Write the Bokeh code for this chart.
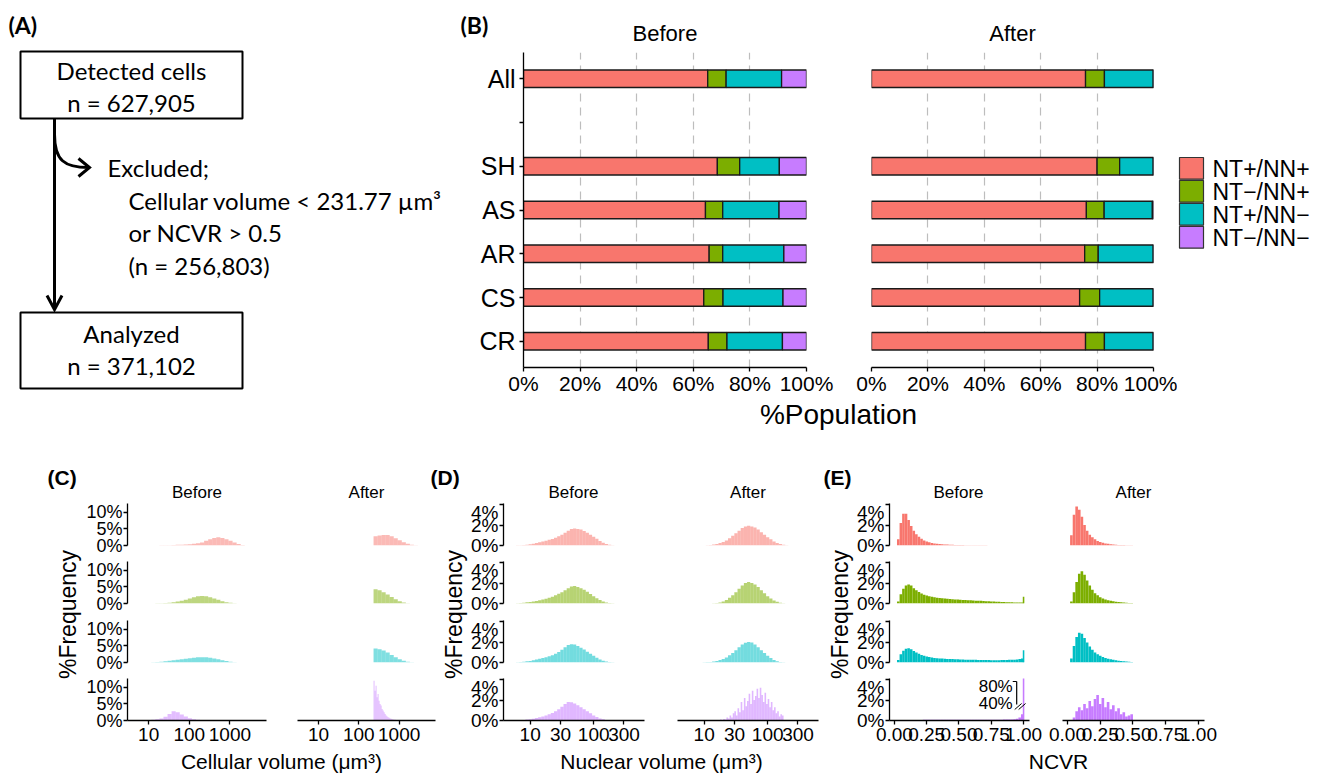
import numpy as np
from bokeh.plotting import figure
from bokeh.layouts import row, column
from bokeh.models import Range1d, FixedTicker, PrintfTickFormatter, ColumnDataSource, Label
from bokeh.core.properties import value
from bokeh.embed import file_html
from bokeh.resources import INLINE

FONT = "Liberation Sans"
FONT_A = "Lato"

# ======================= DATA =======================
SUBSETS = ["NT+/NN+", "NT\u2212/NN+", "NT+/NN\u2212", "NT\u2212/NN\u2212"]
COLORS = ["#F8766D", "#7CAE00", "#00BFC4", "#C77CFF"]
FACETS = ["Before", "After"]

# (A) flow chart
A_box1 = ["Detected cells", "n = 627,905"]
A_excluded = ["Excluded;", "Cellular volume < 231.77 \u00b5m\u00b3", "or NCVR > 0.5", "(n = 256,803)"]
A_box2 = ["Analyzed", "n = 371,102"]

# (B) stacked bars, %Population
B_axis_factors = ["CR", "CS", "AR", "AS", "SH", "", "All"]  # bottom -> top
B_groups = ["All", "SH", "AS", "AR", "CS", "CR"]
B_before_pp = [65.1, 68.5, 64.3, 65.6, 63.7, 65.3]
B_before_mp = [6.5, 7.9, 6.1, 4.8, 6.8, 6.6]
B_before_pm = [19.6, 14.0, 19.9, 21.6, 21.2, 19.6]
B_before_mm = [8.8, 9.6, 9.7, 8.0, 8.3, 8.5]
B_after_pp = [75.9, 80.0, 76.2, 75.6, 73.8, 75.9]
B_after_mp = [6.7, 8.0, 6.3, 4.8, 7.1, 6.7]
B_after_pm = [17.3, 11.9, 17.1, 19.5, 19.0, 17.3]
B_after_mm = [0.1, 0.1, 0.4, 0.1, 0.1, 0.1]

# (C) cellular volume histograms (% frequency), bin centres in log10(um^3)
C_bins = [round(0.815 + 0.1 * k, 3) for k in range(29)]
C_fine_bins = [round(2.3775 + 0.025 * k, 4) for k in range(28)]
C_before_pp = [0, 0, 0, 0, 0.02, 0.05, 0.08, 0.1, 0.15, 0.2, 0.25, 0.3, 0.4, 0.5, 0.65, 0.9, 1.4, 1.9, 2.3, 2.5,
               2.3, 1.9, 1.4, 0.9, 0.45, 0.15, 0.02, 0, 0]
C_after_pp = [0] * 16 + [2.8, 3.0, 3.2, 3.2, 2.8, 2.2, 1.6, 1.0, 0.5, 0.2, 0.05, 0, 0]
C_before_mp = [0, 0, 0, 0.02, 0.05, 0.1, 0.15, 0.25, 0.4, 0.6, 0.85, 1.15, 1.5, 1.9, 2.2, 2.3, 2.2, 1.9, 1.5, 1.1,
               0.7, 0.4, 0.2, 0.07, 0.01, 0, 0, 0, 0]
C_after_mp = [0] * 16 + [4.3, 4.0, 3.4, 2.7, 2.0, 1.3, 0.7, 0.3, 0.08, 0, 0, 0, 0]
C_before_pm = [0, 0, 0.03, 0.08, 0.15, 0.25, 0.35, 0.5, 0.65, 0.8, 0.95, 1.1, 1.3, 1.45, 1.55, 1.6, 1.55, 1.4, 1.2,
               0.95, 0.7, 0.45, 0.25, 0.1, 0.03, 0, 0, 0, 0]
C_after_pm = [0] * 16 + [4.2, 4.0, 3.6, 3.0, 2.3, 1.6, 1.0, 0.5, 0.2, 0.05, 0, 0, 0]
C_before_mm = [0, 0.05, 0.1, 0.2, 0.35, 0.6, 1.1, 2.0, 2.8, 2.5, 1.8, 1.2, 0.7, 0.4, 0.2, 0.05, 0, 0, 0, 0,
               0, 0, 0, 0, 0, 0, 0, 0, 0]
C_after_mm = [12.0, 9.0, 10.5, 7.0, 8.0, 6.0, 5.0, 4.5, 3.5, 3.0, 2.5, 2.0, 1.5, 1.2, 1.0, 0.8, 0.6, 0.5, 0.4, 0.3,
              0.25, 0.2, 0.15, 0.1, 0.1, 0.05, 0.05, 0.03]

# (D) nuclear volume histograms, bin centres in log10(um^3)
D_bins = [round(0.8 + 0.05 * k, 3) for k in range(31)]
D_fine_bins = [round(1.2625 + 0.025 * k, 4) for k in range(40)]
D_before_pp = [0.02, 0.03, 0.05, 0.08, 0.12, 0.18, 0.25, 0.32, 0.4, 0.47, 0.55, 0.64, 0.75, 0.9, 1.05, 1.25,
               1.45, 1.6, 1.66, 1.62, 1.55, 1.42, 1.25, 1.05, 0.85, 0.65, 0.45, 0.28, 0.15, 0.07, 0.03]
D_after_pp = [0, 0, 0, 0, 0, 0.02, 0.05, 0.09, 0.15, 0.24, 0.35, 0.5, 0.7, 0.95, 1.2, 1.45, 1.7, 1.85, 1.92,
              1.85, 1.75, 1.55, 1.3, 1.05, 0.8, 0.6, 0.4, 0.25, 0.15, 0.07, 0.03]
D_before_mp = [0.03, 0.05, 0.08, 0.11, 0.15, 0.2, 0.25, 0.32, 0.4, 0.47, 0.55, 0.66, 0.8, 0.95, 1.1, 1.3, 1.5,
               1.65, 1.7, 1.62, 1.5, 1.35, 1.15, 0.93, 0.7, 0.52, 0.35, 0.2, 0.1, 0.05, 0.02]
D_after_mp = [0, 0, 0, 0, 0, 0, 0, 0.02, 0.05, 0.1, 0.2, 0.35, 0.55, 0.8, 1.1, 1.45, 1.75, 2.0, 2.1, 2.0, 1.85,
              1.6, 1.3, 1.0, 0.7, 0.48, 0.3, 0.16, 0.08, 0.03, 0]
D_before_pm = [0.03, 0.05, 0.08, 0.11, 0.15, 0.22, 0.3, 0.37, 0.45, 0.52, 0.6, 0.71, 0.85, 1.03, 1.25, 1.5, 1.7,
               1.78, 1.75, 1.62, 1.45, 1.26, 1.05, 0.85, 0.65, 0.46, 0.3, 0.18, 0.1, 0.05, 0.02]
D_after_pm = [0, 0, 0, 0.01, 0.02, 0.04, 0.06, 0.1, 0.15, 0.24, 0.35, 0.5, 0.7, 0.93, 1.2, 1.48, 1.75, 1.92, 2.0,
              1.95, 1.75, 1.5, 1.2, 0.92, 0.65, 0.43, 0.25, 0.13, 0.06, 0.02, 0]
D_before_mm = [0.02, 0.04, 0.06, 0.09, 0.12, 0.18, 0.25, 0.32, 0.4, 0.5, 0.6, 0.74, 0.9, 1.1, 1.35, 1.6, 1.8,
               1.78, 1.65, 1.48, 1.3, 1.1, 0.9, 0.7, 0.5, 0.34, 0.2, 0.11, 0.06, 0.02, 0]
D_after_mm = [0.1, 0.0, 0.15, 0.1, 0.3, 0.2, 0.5, 0.3, 0.7, 0.9, 0.5, 1.2, 0.8, 1.8, 1.0, 2.2, 1.4, 1.9, 2.6, 1.6,
              2.9, 2.0, 2.4, 3.1, 2.2, 3.2, 2.5, 1.8, 2.7, 1.6, 2.1, 1.3, 1.8, 1.0, 1.3, 0.7, 0.9, 0.4, 0.6, 0.5]

# (E) NCVR histograms, bins of width 0.02
E_bins = [round(0.01 + 0.02 * k, 2) for k in range(50)]
E_before_pp = [0, 0.6, 2.2, 3.1, 3.1, 2.5, 1.9, 1.45, 1.1, 0.85,
               0.65, 0.5, 0.4, 0.32, 0.25, 0.2, 0.17, 0.14, 0.12, 0.1,
               0.09, 0.08, 0.07, 0.06, 0.05, 0.045, 0.04, 0.035, 0.03, 0.03,
               0.025, 0.02, 0.02, 0.02, 0.015, 0.015, 0.01, 0.01, 0.01, 0.01,
               0.008, 0.006, 0.005, 0.004, 0.003, 0.002, 0, 0, 0, 0]
E_after_pp = [0, 1.0, 3.0, 3.8, 3.5, 2.8, 2.0, 1.45, 1.05, 0.8, 0.6, 0.45, 0.35, 0.27, 0.2, 0.16, 0.13, 0.1,
              0.08, 0.06, 0.05, 0.04, 0.03, 0.025, 0.02]
E_before_mp = [0, 0.2, 0.9, 1.45, 1.75, 1.85, 1.75, 1.5, 1.3, 1.12,
               0.98, 0.86, 0.77, 0.7, 0.65, 0.6, 0.57, 0.54, 0.51, 0.48,
               0.46, 0.44, 0.42, 0.4, 0.38, 0.37, 0.35, 0.34, 0.32, 0.31,
               0.3, 0.28, 0.27, 0.26, 0.25, 0.23, 0.22, 0.2, 0.19, 0.17,
               0.16, 0.15, 0.14, 0.13, 0.12, 0.11, 0.1, 0.1, 0.09, 0.1]
E_after_mp = [0, 0.2, 1.1, 2.1, 2.9, 3.15, 2.8, 2.25, 1.75, 1.35, 1.0, 0.8, 0.62, 0.5, 0.4, 0.32, 0.26, 0.21,
              0.17, 0.14, 0.11, 0.09, 0.07, 0.06, 0.05]
E_before_pm = [0, 0.25, 0.8, 1.15, 1.35, 1.4, 1.3, 1.12, 0.97, 0.85,
               0.74, 0.65, 0.58, 0.53, 0.49, 0.45, 0.42, 0.4, 0.38, 0.36,
               0.35, 0.34, 0.33, 0.32, 0.31, 0.3, 0.29, 0.28, 0.27, 0.27,
               0.26, 0.26, 0.25, 0.25, 0.24, 0.24, 0.24, 0.23, 0.23, 0.23,
               0.23, 0.24, 0.24, 0.25, 0.26, 0.27, 0.28, 0.3, 0.33, 0.4]
E_after_pm = [0, 0.4, 1.6, 2.5, 2.9, 2.8, 2.4, 1.95, 1.55, 1.25, 0.98, 0.8, 0.65, 0.53, 0.44, 0.37, 0.31, 0.26,
              0.22, 0.18, 0.15, 0.12, 0.1, 0.08, 0.06]
E_before_mm = [0, 0, 0, 0, 0, 0, 0, 0, 0.02, 0.04,
               0.06, 0.07, 0.07, 0.08, 0.07, 0.08, 0.08, 0.07, 0.08, 0.08,
               0.07, 0.08, 0.08, 0.08, 0.07, 0.08, 0.08, 0.08, 0.07, 0.08,
               0.08, 0.08, 0.08, 0.07, 0.08, 0.08, 0.08, 0.08, 0.08, 0.08,
               0.08, 0.08, 0.09, 0.09, 0.09, 0.1, 0.12, 0.18, 0.3, 0.6]
E_after_mm = [0, 0, 0.3, 0.9, 1.3, 1.0, 1.6, 1.2, 1.9, 1.4, 2.1, 2.5, 1.6, 2.2, 1.3, 1.8, 1.1, 1.5, 0.9, 1.2,
              0.6, 0.8, 0.4, 0.5, 0.6]
E_spike_at_1 = [0, 0.65, 1.2, 85.0]   # "Before": cells with NCVR = 1.00, per subset

# ======================= HELPERS =======================
W = 1322  # page width used


def text_fig(x0, x1, y0, y1):
    p = figure(width=x1 - x0, height=y1 - y0, x_range=Range1d(x0, x1), y_range=Range1d(-y1, -y0),
               toolbar_location=None, output_backend="svg", x_axis_location=None, y_axis_location=None)
    p.min_border_left = p.min_border_right = p.min_border_top = p.min_border_bottom = 0
    p.outline_line_color = None
    p.xgrid.visible = False
    p.ygrid.visible = False
    return p


def txt(p, x, y, s, size, font=FONT, align="center", baseline="middle", style="normal", angle=0.0):
    p.text(x=[x], y=[-y], text=[s], text_font=value(font), text_font_size=value(f"{size}px"),
           text_align=align, text_baseline=baseline, text_font_style=style, angle=angle, text_color="black")


def data_fig(cx0, cx1, cy0, cy1, fx0, fx1, fy0, fy1, xr, yr, xlog=False, xaxis=False, yaxis=False):
    p = figure(width=cx1 - cx0, height=cy1 - cy0, x_range=xr, y_range=yr,
               x_axis_type="log" if xlog else "linear",
               x_axis_location="below" if xaxis else None,
               y_axis_location="left" if yaxis else None,
               toolbar_location=None, output_backend="svg")
    p.min_border_left = fx0 - cx0
    p.min_border_right = cx1 - fx1
    p.min_border_top = fy0 - cy0
    p.min_border_bottom = cy1 - fy1
    p.outline_line_color = None
    p.xgrid.visible = False
    p.ygrid.visible = False
    return p


def style_axis(ax, size, standoff):
    ax.axis_line_color = "black"
    ax.axis_line_width = 1.3
    ax.major_tick_line_color = "black"
    ax.major_tick_line_width = 1.3
    ax.major_tick_in = 0
    ax.major_tick_out = 4
    ax.minor_tick_line_color = None
    ax.major_label_text_font = FONT
    ax.major_label_text_font_size = f"{size}px"
    ax.major_label_text_color = "black"
    ax.major_label_standoff = standoff


# ======================= (A) =======================
figA = text_fig(0, 460, 0, 432)
txt(figA, 8, 24, "(A)", 23, FONT_A, align="left", style="bold")
figA.quad(left=[20, 20], right=[242, 242], top=[-51, -312], bottom=[-118, -388],
          fill_color=None, line_color="black", line_width=2)
for s, y in zip(A_box1, [70, 102]):
    txt(figA, 131, y, s, 24, FONT_A)
for s, y in zip(A_box2, [333, 365]):
    txt(figA, 131, y, s, 24, FONT_A)
for i, (s, y) in enumerate(zip(A_excluded, [167, 200, 232, 265])):
    txt(figA, 107 if i == 0 else 128, y, s, 24, FONT_A, align="left")
figA.line([54, 54], [-118, -308], line_width=3, line_color="black")
figA.line([46.5, 54, 61.5], [-295, -309, -295], line_width=3, line_color="black", line_join="miter")
figA.bezier(x0=[54], y0=[-134], x1=[88], y1=[-167], cx0=[54], cy0=[-160], cx1=[64], cy1=[-167],
            line_width=3, line_color="black")
figA.line([78, 89, 78], [-158, -167, -176], line_width=3, line_color="black", line_join="miter")

# ======================= (B) =======================
bhead = text_fig(460, W, 0, 46)
txt(bhead, 460, 24, "(B)", 23, FONT_A, align="left", style="bold")
B_frames = [(523, 806), (871, 1153)]
for f, (a, b) in zip(FACETS, B_frames):
    txt(bhead, (a + b) / 2, 33, f, 22)

B_y = [B_axis_factors.index(g) + 1 for g in B_groups]
yr_B = Range1d(0.4, len(B_axis_factors) + 0.6)
B_TOP, B_BOT = 46, 397


def make_B(cx0, cx1, fx0, fx1, vals, yaxis):
    p = data_fig(cx0, cx1, B_TOP, B_BOT, fx0, fx1, 52, 369, Range1d(0, 100), yr_B, xaxis=True, yaxis=yaxis)
    p.xgrid.visible = True
    p.xgrid.ticker = FixedTicker(ticks=[20, 40, 60, 80])
    p.xgrid.grid_line_color = "#BDBDBD"
    p.xgrid.grid_line_dash = "8 6"
    p.xgrid.grid_line_width = 1.2
    src = ColumnDataSource(dict(y=B_y, pp=vals[0], mp=vals[1], pm=vals[2], mm=vals[3]))
    p.hbar_stack(["pp", "mp", "pm", "mm"], y="y", height=0.4, fill_color=COLORS,
                 line_color="#1a1a1a", line_width=1.3, source=src)
    p.xaxis.ticker = FixedTicker(ticks=[0, 20, 40, 60, 80, 100])
    p.xaxis.formatter = PrintfTickFormatter(format="%d%%")
    style_axis(p.xaxis[0], 21, 0)
    if yaxis:
        p.yaxis.ticker = FixedTicker(ticks=list(range(1, len(B_axis_factors) + 1)))
        p.yaxis.major_label_overrides = {i + 1: f for i, f in enumerate(B_axis_factors)}
        style_axis(p.yaxis[0], 25, 4)
    return p


b1 = make_B(460, 838, 523, 806, [B_before_pp, B_before_mp, B_before_pm, B_before_mm], True)
b2 = make_B(838, 1177, 871, 1153, [B_after_pp, B_after_mp, B_after_pm, B_after_mm], False)

leg = text_fig(1177, W, B_TOP, B_BOT)
key_top = [163 + 25.6 * i for i in range(len(SUBSETS))]
leg.quad(left=[1179] * 4, right=[1203] * 4, top=[-t for t in key_top], bottom=[-(t + 24.2) for t in key_top],
         fill_color=COLORS, line_color="#333333", line_width=1.2)
for s, t in zip(SUBSETS, key_top):
    txt(leg, 1212, t + 12.5, s, 23, align="left")

bfoot = text_fig(460, W, B_BOT, 432)
txt(bfoot, 838, 414, "%Population", 28)

top = row(figA, column(bhead, row(b1, b2, leg), bfoot))

# ======================= (C)(D)(E) =======================
ROWS = [(501, 559, 503, 545), (559, 618, 561, 603), (618, 676, 620, 662), (676, 750, 678, 720)]

PANELS = [
    dict(tag="(C)", tag_x=47, cols=[(82, 281, 127, 266), (281, 438, 297, 435)],
         xr=(10 ** 0.48, 10 ** 3.9), xlog=True, ymax=12.7, yticks=[0, 5, 10],
         xticks=[10, 100, 1000], xfmt=None, alpha=0.5, ysize=18,
         data=[[(C_bins, 0.05, C_before_pp), (C_bins, 0.05, C_after_pp)],
               [(C_bins, 0.05, C_before_mp), (C_bins, 0.05, C_after_mp)],
               [(C_bins, 0.05, C_before_pm), (C_bins, 0.05, C_after_pm)],
               [(C_bins, 0.05, C_before_mm), (C_fine_bins, 0.0125, C_after_mm)]],
         title="Cellular volume (\u03bcm\u00b3)", title_x=281),
    dict(tag="(D)", tag_x=430, cols=[(468, 660, 502, 644), (660, 824, 677, 818)],
         xr=(10 ** 0.58, 10 ** 2.80), xlog=True, ymax=4.1, yticks=[0, 2, 4],
         xticks=[10, 30, 100, 300], xfmt=None, alpha=0.55, ysize=19,
         data=[[(D_bins, 0.025, D_before_pp), (D_bins, 0.025, D_after_pp)],
               [(D_bins, 0.025, D_before_mp), (D_bins, 0.025, D_after_mp)],
               [(D_bins, 0.025, D_before_pm), (D_bins, 0.025, D_after_pm)],
               [(D_bins, 0.025, D_before_mm), (D_fine_bins, 0.0125, D_after_mm)]],
         title="Nuclear volume (\u03bcm\u00b3)", title_x=661),
    dict(tag="(E)", tag_x=823, cols=[(854, 1045, 887, 1029), (1045, W, 1062, 1204)],
         xr=(-0.038, 1.046), xlog=False, ymax=4.1, yticks=[0, 2, 4],
         xticks=[0, 0.25, 0.5, 0.75, 1.0], xfmt="%.2f", alpha=1.0, ysize=19,
         data=[[(E_bins, 0.01, E_before_pp), (E_bins, 0.01, E_after_pp)],
               [(E_bins, 0.01, E_before_mp), (E_bins, 0.01, E_after_mp)],
               [(E_bins, 0.01, E_before_pm), (E_bins, 0.01, E_after_pm)],
               [(E_bins, 0.01, E_before_mm), (E_bins, 0.01, E_after_mm)]],
         title="NCVR", title_x=1058),
]

bhead2 = text_fig(0, W, 432, 501)
bfoot2 = text_fig(0, W, 750, 774)
for P in PANELS:
    txt(bhead2, P["tag_x"], 477, P["tag"], 21, align="left", style="bold")
    for f, (_, _, a, b) in zip(FACETS, P["cols"]):
        txt(bhead2, (a + b) / 2, 492, f, 17)
    txt(bfoot2, P["title_x"], 761, P["title"], 21)


def draw_hist(p, centers, half, vals, color, alpha, log):
    n = min(len(centers), len(vals))
    c = np.asarray(centers[:n], dtype=float)
    if log:
        left, right = 10 ** (c - half), 10 ** (c + half)
    else:
        left, right = c - half, c + half
    p.quad(left=left, right=right, bottom=0, top=vals[:n], fill_color=color, fill_alpha=alpha, line_color=None)


grid_cols = []
for pi, P in enumerate(PANELS):
    xr = Range1d(*P["xr"])
    yr = Range1d(0, P["ymax"])
    for ci, (cx0, cx1, fx0, fx1) in enumerate(P["cols"]):
        figs = []
        for ri, (cy0, cy1, fy0, fy1) in enumerate(ROWS):
            last = ri == len(ROWS) - 1
            p = data_fig(cx0, cx1, cy0, cy1, fx0, fx1, fy0, fy1, xr, yr, xlog=P["xlog"],
                         xaxis=last, yaxis=(ci == 0))
            centers, half, vals = P["data"][ri][ci]
            draw_hist(p, centers, half, vals, COLORS[ri], P["alpha"], P["xlog"])
            if P["tag"] == "(E)" and ci == 0 and E_spike_at_1[ri] > 0:
                p.quad(left=[0.994], right=[1.006], bottom=[0], top=[E_spike_at_1[ri]],
                       fill_color=COLORS[ri], line_color=None)
            if ci == 0:
                p.yaxis.ticker = FixedTicker(ticks=P["yticks"])
                p.yaxis.formatter = PrintfTickFormatter(format="%d%%")
                style_axis(p.yaxis[0], P["ysize"], 1)
            if last:
                p.xaxis.ticker = FixedTicker(ticks=P["xticks"])
                if P["xfmt"]:
                    p.xaxis.formatter = PrintfTickFormatter(format=P["xfmt"])
                else:
                    p.xaxis.major_label_overrides = {t: str(t) for t in P["xticks"]}
                style_axis(p.xaxis[0], 19, 3)
            if P["tag"] == "(E)":
                x0, x1 = P["xr"]
                fx = lambda px, x0=x0, x1=x1, a=fx0, b=fx1: x0 + (px - a) / (b - a) * (x1 - x0)
                fy = lambda py, b=fy1, t=fy0: (b - py) / (b - t) * P["ymax"]
                if ci == 1:
                    p.add_layout(Label(x=fx(1210), y=fy((fy0 + fy1) / 2), text=SUBSETS[ri],
                                       text_font=FONT, text_font_size="17px", text_baseline="middle",
                                       text_align="left", text_color="black"))
                if ci == 0 and last:
                    for s, yy in [("80%", 686), ("40%", 703)]:
                        p.add_layout(Label(x=fx(1012), y=fy(yy), text=s, text_font=FONT,
                                           text_font_size="17px", text_baseline="middle",
                                           text_align="right", text_color="black"))
                    p.segment(x0=[fx(1016), fx(1012)], y0=[fy(681), fy(681)],
                              x1=[fx(1016), fx(1016)], y1=[fy(704), fy(681)],
                              line_color="black", line_width=1.2)
                    p.segment(x0=[fx(1014), fx(1018)], y0=[fy(709), fy(709)],
                              x1=[fx(1021), fx(1025)], y1=[fy(703), fy(703)],
                              line_color="black", line_width=1.0)
            figs.append(p)
        grid_cols.append(column(*figs))

strips = []
for x0, x1, xc in [(0, 82, 67), (438, 468, 453), (824, 854, 839)]:
    s = text_fig(x0, x1, 501, 750)
    txt(s, xc, 614, "%Frequency", 23, angle=np.pi / 2)
    strips.append(s)

grid_row = row(strips[0], grid_cols[0], grid_cols[1], strips[1], grid_cols[2], grid_cols[3],
               strips[2], grid_cols[4], grid_cols[5])

layout = column(top, bhead2, grid_row, bfoot2)

with open("out.html", "w") as fh:
    fh.write(file_html(layout, INLINE, title="figure"))
